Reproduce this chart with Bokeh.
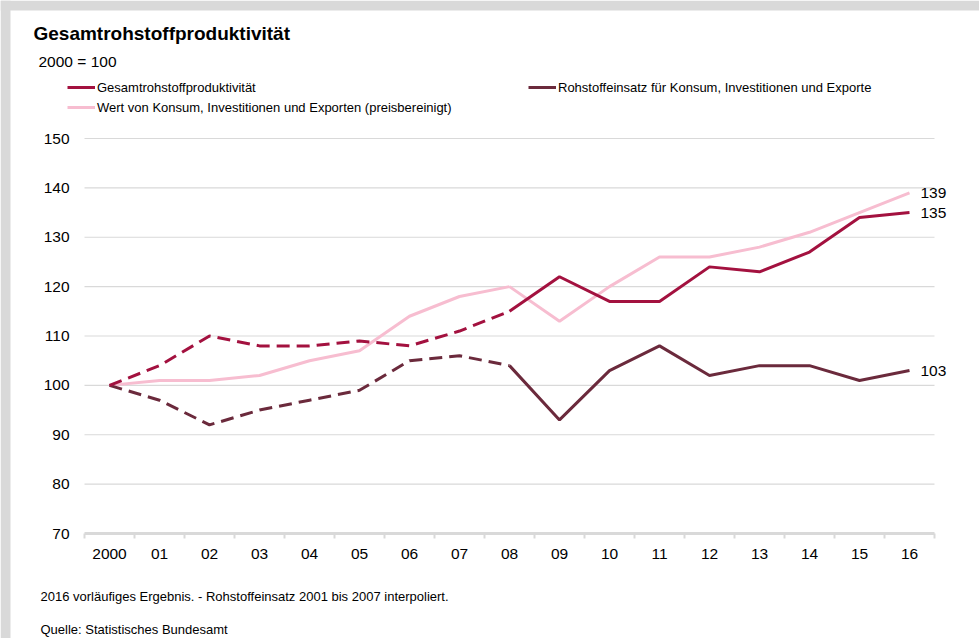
from bokeh.plotting import figure
from bokeh.models import (Range1d, Label, Legend, LegendItem, ColumnDataSource, BoxAnnotation)
from bokeh.core.properties import value
from bokeh.embed import file_html
from bokeh.resources import INLINE

# ---- data ----
years = ["2000", "01", "02", "03", "04", "05", "06", "07", "08",
         "09", "10", "11", "12", "13", "14", "15", "16"]
gesamt = [100, 104, 110, 108, 108, 109, 108, 111, 115,
          122, 117, 117, 124, 123, 127, 134, 135]
rohstoff = [100, 97, 92, 95, 97, 99, 105, 106, 104,
            93, 103, 108, 102, 104, 104, 101, 103]
wert = [100, 101, 101, 102, 105, 107, 114, 118, 120,
        113, 120, 126, 126, 128, 131, 135, 139]
interp_end = 8  # index of 2008: values up to here are dashed (interpolated)
y_ticks = [70, 80, 90, 100, 110, 120, 130, 140, 150]

title_text = "Gesamtrohstoffproduktivität"
subtitle_text = "2000 = 100"
name_gesamt = "Gesamtrohstoffproduktivität"
name_rohstoff = "Rohstoffeinsatz für Konsum, Investitionen und Exporte"
name_wert = "Wert von Konsum, Investitionen und Exporten (preisbereinigt)"
note1 = "2016 vorläufiges Ergebnis. - Rohstoffeinsatz 2001 bis 2007 interpoliert."
note2 = "Quelle: Statistisches Bundesamt"

C_GES = "#A3113F"
C_ROH = "#6B2A3C"
C_WERT = "#F7BDD0"
GRID = "#D9D9D9"
FONT = "Liberation Sans"

# ---- layout (pixels) ----
W, H = 979, 638
X_C0, DX = 109, 50           # centre of first category, category width
Y_TOP_PX, Y_BOT_PX = 138, 533  # pixel rows of top / bottom tick
ppu = (Y_BOT_PX - Y_TOP_PX) / (y_ticks[-1] - y_ticks[0])

x = list(range(len(years)))
n = len(years)

p = figure(width=W, height=H, output_backend="svg", toolbar_location=None,
           x_range=Range1d(-X_C0 / DX, (W - X_C0) / DX),
           y_range=Range1d(y_ticks[0] - (H - Y_BOT_PX) / ppu, y_ticks[-1] + Y_TOP_PX / ppu),
           min_border=0, outline_line_color=None,
           background_fill_color="white", border_fill_color="white")
p.xaxis.visible = False
p.yaxis.visible = False
p.grid.visible = False

# grey page band at top and left
p.add_layout(BoxAnnotation(bottom=H - 10, bottom_units="screen", fill_color=GRID,
                           fill_alpha=1, line_color=None))
p.add_layout(BoxAnnotation(right=10, right_units="screen", fill_color=GRID,
                           fill_alpha=1, line_color=None))

# gridlines
gy = y_ticks[1:]
p.segment(x0=[-0.5] * len(gy), x1=[n - 0.5] * len(gy), y0=gy, y1=gy,
          line_color=GRID, line_width=1.2)
# x axis line + boundary ticks
p.segment(x0=[-0.5], x1=[n - 0.5], y0=[y_ticks[0]], y1=[y_ticks[0]],
          line_color=GRID, line_width=3)
bx = [i - 0.5 for i in range(n + 1)]
p.segment(x0=bx, x1=bx, y0=[y_ticks[0]] * len(bx), y1=[y_ticks[0] - 5 / ppu] * len(bx),
          line_color=GRID, line_width=2)

# tick labels
p.text(x=x, y=[y_ticks[0]] * n, text=years, y_offset=20, text_align="center",
       text_baseline="middle", text_font=value(FONT), text_font_size="15.5px",
       text_color="#000000")
p.text(x=[-0.5] * len(y_ticks), y=y_ticks, text=[str(v) for v in y_ticks], x_offset=-15,
       text_align="right", text_baseline="middle", text_font=value(FONT),
       text_font_size="15.5px", text_color="#000000")

k = interp_end
DASH = "13 7"
p.line(x[:k + 1], wert[:k + 1], line_color=C_WERT, line_width=3)
r_wert = p.line(x[k:], wert[k:], line_color=C_WERT, line_width=3)
p.line(x[:k + 1], rohstoff[:k + 1], line_color=C_ROH, line_width=3, line_dash=DASH)
r_roh = p.line(x[k:], rohstoff[k:], line_color=C_ROH, line_width=3)
p.line(x[:k + 1], gesamt[:k + 1], line_color=C_GES, line_width=3, line_dash=DASH)
r_ges = p.line(x[k:], gesamt[k:], line_color=C_GES, line_width=3)

# end labels
last = n - 1
src = ColumnDataSource(dict(x=[x[last]] * 3, y=[wert[last], gesamt[last], rohstoff[last]],
                            t=[str(wert[last]), str(gesamt[last]), str(rohstoff[last])]))
p.text("x", "y", text="t", source=src, x_offset=11, text_baseline="middle", text_align="left",
       text_font=value(FONT), text_font_size="15.5px", text_color="#000000")

# legend (location = bottom-left corner, measured from the bottom)
legend = Legend(items=[LegendItem(label=name_gesamt, renderers=[r_ges]),
                       LegendItem(label=name_wert, renderers=[r_wert]),
                       LegendItem(label=name_rohstoff, renderers=[r_roh])],
                ncols=2, location=(67, H - 117), border_line_color=None,
                background_fill_alpha=0, padding=0, margin=0, spacing=0,
                label_height=20, glyph_height=20, glyph_width=28, label_standoff=2,
                label_width=431, label_text_font=FONT, label_text_font_size="13px",
                label_text_color="#000000")
p.add_layout(legend, "center")


def lab(xw, yw, text, size, bold=False):
    return Label(x=xw, y=H - yw, x_units="screen", y_units="screen",
                 text=text, text_font=FONT, text_font_size=size,
                 text_font_style="bold" if bold else "normal",
                 text_baseline="middle", text_align="left", text_color="#000000")


p.add_layout(lab(33, 33, title_text, "19px", bold=True))
p.add_layout(lab(38, 61, subtitle_text, "15.5px"))
p.add_layout(lab(40, 596, note1, "13px"))
p.add_layout(lab(40, 629, note2, "13px"))

open("out.html", "w").write(file_html(p, INLINE))
